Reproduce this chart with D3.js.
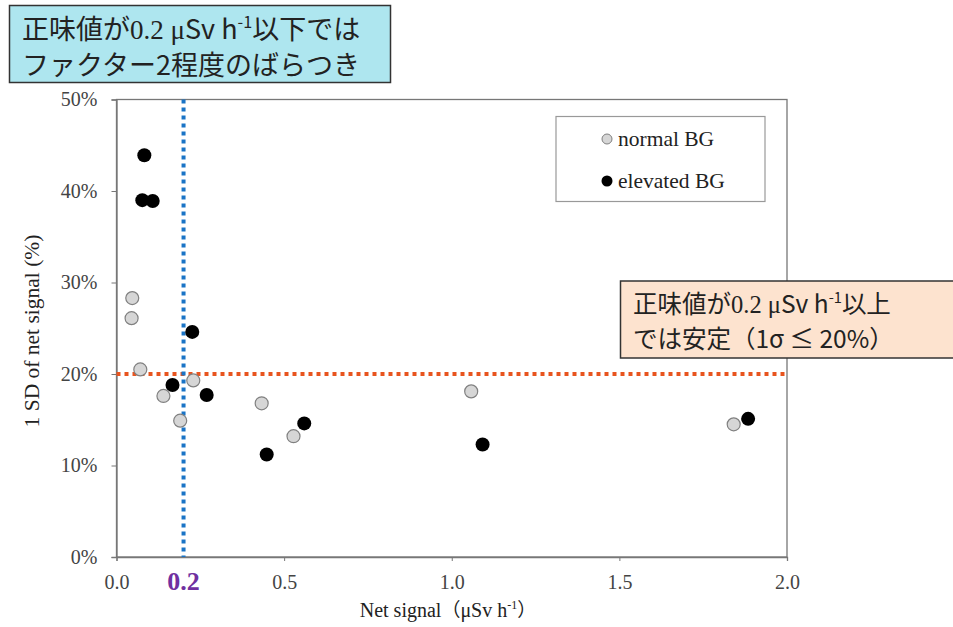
<!DOCTYPE html>
<html><head><meta charset="utf-8">
<script src="https://cdn.jsdelivr.net/npm/d3@7"></script>
<style>body{margin:0;background:#fff}svg{display:block}</style>
</head><body>
<svg id="c" width="953" height="627"></svg>
<script>
// ---- data ----
const normalX = [0.047, 0.045, 0.071, 0.140, 0.229, 0.190, 0.433, 0.528, 1.058, 1.841];
const normalY = [0.283, 0.261, 0.205, 0.176, 0.193, 0.149, 0.168, 0.132, 0.181, 0.145];
const elevX = [0.083, 0.077, 0.108, 0.226, 0.167, 0.269, 0.448, 0.560, 1.092, 1.884];
const elevY = [0.439, 0.390, 0.389, 0.246, 0.188, 0.177, 0.112, 0.146, 0.123, 0.151];
const xTicks = [0.0, 0.5, 1.0, 1.5, 2.0];
const yTicks = [0, 0.1, 0.2, 0.3, 0.4, 0.5];
const thresholdX = 0.2;
const thresholdY = 0.2;
const legendLabels = ["normal BG", "elevated BG"];

const svg = d3.select("#c");
const x = d3.scaleLinear().domain([0, 2]).range([116.5, 787]);
const y = d3.scaleLinear().domain([0, 0.5]).range([557, 99.5]);
const serif = "'Liberation Serif', 'Times New Roman', serif";
const jp = "'Noto Sans CJK JP', sans-serif";

// frame
svg.append("rect").attr("x", x(0)).attr("y", y(0.5)).attr("width", x(2)-x(0)).attr("height", y(0)-y(0.5))
  .attr("fill", "none").attr("stroke", "#777").attr("stroke-width", 1.3);

// axes
const xAxis = svg.append("g").attr("transform", `translate(0,${y(0)})`)
  .call(d3.axisBottom(x).tickValues(xTicks).tickFormat(d3.format(".1f")).tickSize(4).tickPadding(14));
const yAxis = svg.append("g").attr("transform", `translate(${x(0)},0)`)
  .call(d3.axisLeft(y).tickValues(yTicks).tickFormat(d3.format(".0%")).tickSize(5).tickPadding(14));
[xAxis, yAxis].forEach(g => {
  g.attr("font-family", serif).attr("font-size", 20);
  g.select(".domain").attr("stroke", "#777").attr("stroke-width", 1.3);
  g.selectAll(".tick line").attr("stroke", "#777");
  g.selectAll(".tick text").attr("fill", "#444");
});

// threshold lines
svg.append("line").attr("x1", x(0)).attr("x2", x(2)).attr("y1", y(thresholdY)).attr("y2", y(thresholdY))
  .attr("stroke", "#e8541e").attr("stroke-width", 4).attr("stroke-dasharray", "4,4");
svg.append("line").attr("x1", x(thresholdX)).attr("x2", x(thresholdX)).attr("y1", y(0.5)).attr("y2", y(0))
  .attr("stroke", "#1a74c6").attr("stroke-width", 4).attr("stroke-dasharray", "4,4");

// points
const normal = normalX.map((v, i) => ({x: v, y: normalY[i]}));
const elev = elevX.map((v, i) => ({x: v, y: elevY[i]}));
svg.append("g").selectAll("circle").data(normal).join("circle")
  .attr("cx", d => x(d.x)).attr("cy", d => y(d.y)).attr("r", 6.5)
  .attr("fill", "#d6d6d6").attr("stroke", "#808080").attr("stroke-width", 1.2);
svg.append("g").selectAll("circle").data(elev).join("circle")
  .attr("cx", d => x(d.x)).attr("cy", d => y(d.y)).attr("r", 7)
  .attr("fill", "#000");

// 0.2 label
svg.append("text").attr("x", x(thresholdX)).attr("y", 590).attr("text-anchor", "middle")
  .attr("font-family", serif).attr("font-weight", "bold").attr("font-size", 26).attr("fill", "#7030a0").text("0.2");

// axis titles
const xt = svg.append("text").attr("x", 448).attr("y", 617).attr("text-anchor", "middle")
  .attr("font-family", serif).attr("font-size", 20).attr("fill", "#222");
xt.append("tspan").text("Net signal");
xt.append("tspan").attr("font-family", jp).attr("font-size", 19).text("（");
xt.append("tspan").text("μSv h");
xt.append("tspan").attr("font-size", 12).attr("dy", -8).text("-1");
xt.append("tspan").attr("dy", 8).attr("font-family", jp).attr("font-size", 19).text("）");
svg.append("text").attr("transform", "translate(39,331) rotate(-90)").attr("text-anchor", "middle")
  .attr("font-family", serif).attr("font-size", 21.5).attr("fill", "#222").text("1 SD of net signal (%)");

// legend
svg.append("rect").attr("x", 556).attr("y", 116.5).attr("width", 209).attr("height", 85)
  .attr("fill", "#fff").attr("stroke", "#999").attr("stroke-width", 1.2);
const lg = svg.append("g");
legendLabels.forEach((t, i) => {
  const cy = 139 + i * 42;
  lg.append("circle").attr("cx", 607).attr("cy", cy).attr("r", i ? 5.5 : 5)
    .attr("fill", i ? "#000" : "#d6d6d6").attr("stroke", i ? "none" : "#808080");
  lg.append("text").attr("x", 618).attr("y", cy + 6.5).attr("font-family", serif).attr("font-size", 21.5)
    .attr("fill", "#222").text(t);
});

// annotation box top-left
svg.append("rect").attr("x", 9.5).attr("y", 5.5).attr("width", 381).attr("height", 77)
  .attr("fill", "#aee6ef").attr("stroke", "#333").attr("stroke-width", 1.5);
function jpLine(px, py, size, parts) {
  const t = svg.append("text").attr("x", px).attr("y", py).attr("font-family", jp)
    .attr("font-size", size).attr("fill", "#222");
  parts.forEach(p => {
    const s = t.append("tspan").text(p.t);
    if (p.sup) s.attr("font-size", size * 0.6).attr("dy", -size * 0.4);
    if (p.down) s.attr("dy", size * 0.4);
    if (p.serif) s.attr("font-family", serif);
  });
  return t;
}
jpLine(22, 39, 27, [{t: "正味値が"}, {t: "0.2 μ", serif: true}, {t: "Sv h"}, {t: "-1", sup: true}, {t: "以下では", down: true}]);
jpLine(22, 75, 27, [{t: "ファクター2程度のばらつき"}]);

// annotation box right
svg.append("rect").attr("x", 620.5).attr("y", 281).attr("width", 345).attr("height", 77)
  .attr("fill", "#fde3cf").attr("stroke", "#333").attr("stroke-width", 1.5);
jpLine(633, 313, 24.5, [{t: "正味値が"}, {t: "0.2 μ", serif: true}, {t: "Sv h"}, {t: "-1", sup: true}, {t: "以上", down: true}]);
jpLine(633, 348, 24.5, [{t: "では安定（1σ ≤ 20%）"}]);
</script>
</body></html>
